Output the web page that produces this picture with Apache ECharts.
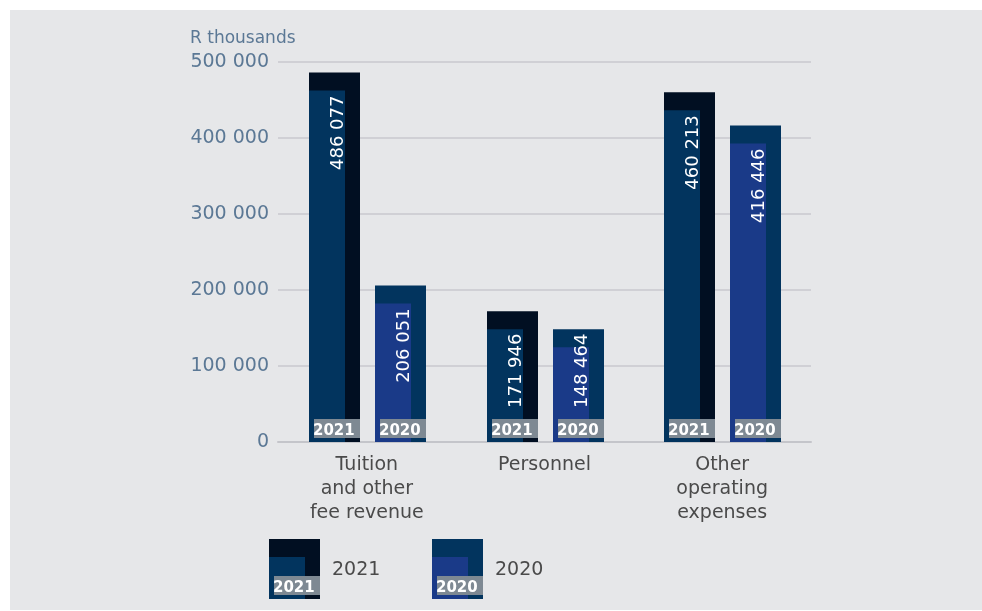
<!DOCTYPE html>
<html>
<head>
<meta charset="utf-8">
<script src="https://cdn.jsdelivr.net/npm/echarts@6/dist/echarts.min.js"></script>
<style>
html,body{margin:0;padding:0;background:#ffffff;}
#panel{position:absolute;left:10px;top:10px;width:972px;height:600px;background:#e6e7e9;}
#chart{position:absolute;left:0;top:0;width:982px;height:611px;}
</style>
</head>
<body>
<div id="panel"></div>
<div id="chart"></div>
<script>
// ---- data ----
const categories = ['Tuition\nand other\nfee revenue', 'Personnel', 'Other\noperating\nexpenses'];
const years = ['2021', '2020'];
const values2021 = [486077, 171946, 460213];
const values2020 = [206051, 148464, 416446];
const yTicks = [0, 100000, 200000, 300000, 400000, 500000];
const unitLabel = 'R thousands';

// ---- styles ----
const FONT = 'DejaVu Sans';
const styles = {
  '2021': { outer: '#010f22', inner: '#02345e', offset: -32.5 },
  '2020': { outer: '#02345e', inner: '#1a3a88', offset: 33.5 }
};
const BOX = '#7e8993';
const BAR_W = 51, INNER_W = 36, INNER_DROP = 18;
const VALUE_FONT = '18px ' + FONT;

const measureCtx = document.createElement('canvas').getContext('2d');
function textWidth(t, font) { measureCtx.font = font; return measureCtx.measureText(t).width; }

function fmt(v) {
  return String(v).replace(/\B(?=(\d{3})+(?!\d))/g, ' ');
}

function makeRender(year) {
  const st = styles[year];
  return function (params, api) {
    const base = api.coord([api.value(0), 0]);
    const top = api.coord([api.value(0), api.value(1)]);
    const x = Math.round(base[0] + st.offset - BAR_W / 2);
    const h = base[1] - top[1];
    const label = fmt(api.value(1));
    const len = textWidth(label, VALUE_FONT);
    const boxTop = base[1] - 23;
    const textTop = Math.min(top[1] + INNER_DROP + 5, boxTop - 11 - len);
    return {
      type: 'group',
      children: [
        { type: 'rect', shape: { x: x, y: top[1], width: BAR_W, height: h }, style: { fill: st.outer } },
        { type: 'rect', shape: { x: x, y: top[1] + INNER_DROP, width: INNER_W, height: h - INNER_DROP }, style: { fill: st.inner } },
        { type: 'rect', shape: { x: x + 5, y: boxTop, width: BAR_W - 5, height: 19 }, style: { fill: BOX } },
        { type: 'text', x: x + 4, y: base[1] - 3,
          style: { text: year, fill: '#ffffff', font: 'bold 15px ' + FONT, textAlign: 'left', textVerticalAlign: 'bottom' } },
        { type: 'text', x: x + 29.5, y: textTop, rotation: Math.PI / 2,
          style: { text: label, fill: '#ffffff', font: VALUE_FONT, textAlign: 'right', textVerticalAlign: 'middle' } }
      ]
    };
  };
}

function legendIcon(x, y, year) {
  const st = styles[year];
  return [
    { type: 'rect', shape: { x: x, y: y, width: BAR_W, height: 60 }, style: { fill: st.outer } },
    { type: 'rect', shape: { x: x, y: y + INNER_DROP, width: INNER_W, height: 60 - INNER_DROP }, style: { fill: st.inner } },
    { type: 'rect', shape: { x: x + 5, y: y + 37, width: BAR_W - 5, height: 19 }, style: { fill: BOX } },
    { type: 'text', x: x + 4, y: y + 57, style: { text: year, fill: '#ffffff', font: 'bold 15px ' + FONT, textAlign: 'left', textVerticalAlign: 'bottom' } },
    { type: 'text', x: x + 63, y: y + 31, style: { text: year, fill: '#4a4a4a', font: '19px ' + FONT, textAlign: 'left', textVerticalAlign: 'middle' } }
  ];
}

const chart = echarts.init(document.getElementById('chart'), null, { renderer: 'canvas' });
chart.setOption({
  animation: false,
  backgroundColor: 'transparent',
  title: {
    text: unitLabel, left: 185, top: 25,
    textStyle: { fontFamily: FONT, fontSize: 17, fontWeight: 'normal', color: '#5b7895' }
  },
  grid: { left: 278, right: 171, top: 62, bottom: 169 },
  xAxis: {
    type: 'category',
    data: categories,
    axisTick: { show: false },
    axisLine: { lineStyle: { color: '#c4c5ca', width: 2 } },
    axisLabel: { fontFamily: FONT, fontSize: 19, color: '#4a4a4a', lineHeight: 24, margin: 11, interval: 0 }
  },
  yAxis: {
    type: 'value',
    min: yTicks[0], max: yTicks[yTicks.length - 1], interval: yTicks[1] - yTicks[0],
    axisLine: { show: false }, axisTick: { show: false },
    splitLine: { lineStyle: { color: '#c8c9ce', width: 1.5 } },
    axisLabel: { fontFamily: FONT, fontSize: 19, color: '#5b7895', margin: 9, formatter: fmt }
  },
  graphic: [].concat(legendIcon(269, 539, '2021'), legendIcon(432, 539, '2020')),
  series: [
    { type: 'custom', name: '2021', renderItem: makeRender('2021'), encode: { x: 0, y: 1 },
      data: values2021.map((v, i) => [i, v]) },
    { type: 'custom', name: '2020', renderItem: makeRender('2020'), encode: { x: 0, y: 1 },
      data: values2020.map((v, i) => [i, v]) }
  ]
});
</script>
</body>
</html>
